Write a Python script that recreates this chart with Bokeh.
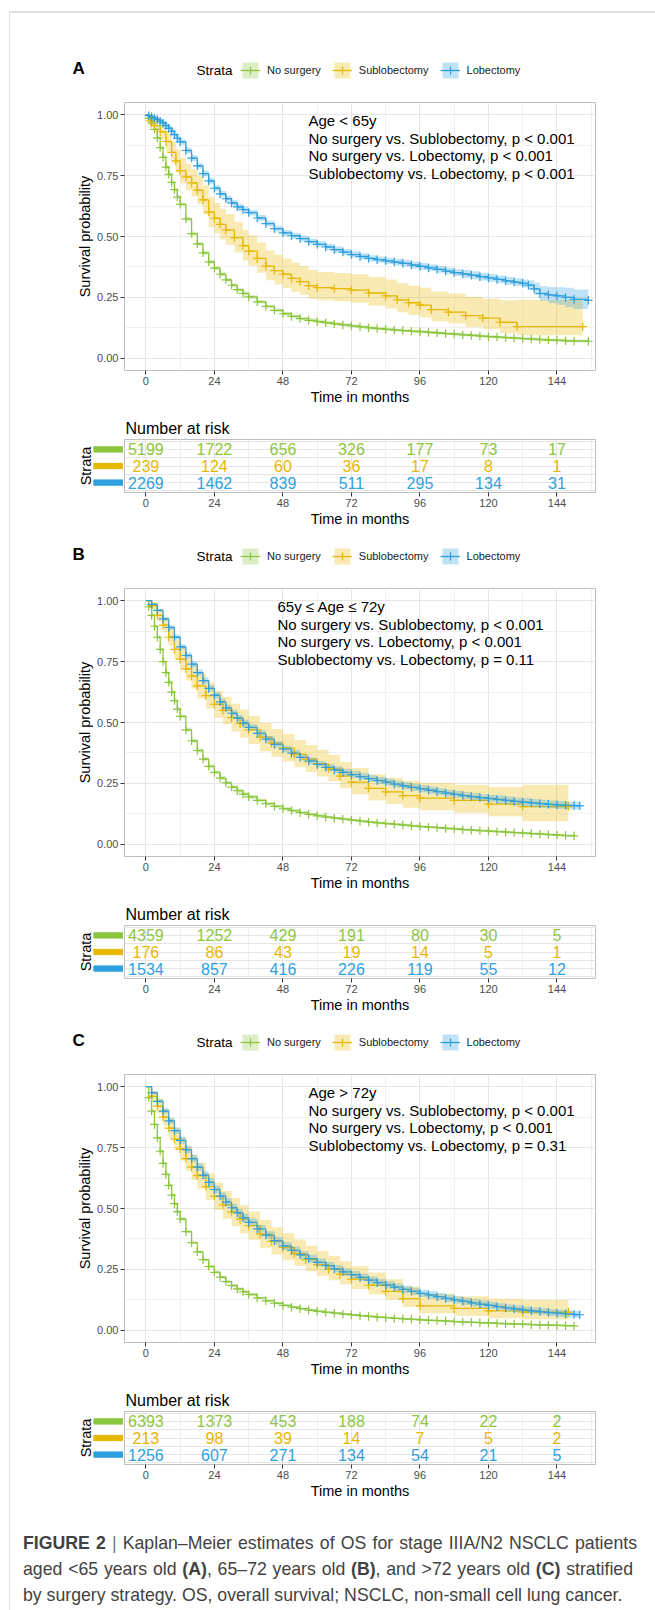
import numpy as np
from bokeh.plotting import figure
from bokeh.models import (Range1d, FixedTicker, NumeralTickFormatter, Label, Legend,
                          LegendItem, ColumnDataSource, Grid, Div)
from bokeh.layouts import row, column
from bokeh.embed import file_html
from bokeh.resources import INLINE
from bokeh.core.properties import value

FONT = "Liberation Sans"
STRATA = ["No surgery", "Sublobectomy", "Lobectomy"]
COLORS = ["#8CC63F", "#E7B800", "#2E9FDF"]
ROW_POS = [3, 2, 1]
X_TICKS = [0, 24, 48, 72, 96, 120, 144]
X_MINOR = [12, 36, 60, 84, 108, 132, 156]
Y_TICKS = [0, 0.25, 0.5, 0.75, 1.0]
Y_MINOR = [0.125, 0.375, 0.625, 0.875]
RISK_TIMES = [0, 24, 48, 72, 96, 120, 144]

# ---------------- Panel A (Age < 65y) ----------------
A_no_t = [0, 1, 2, 3, 4, 5, 6, 7, 8, 9, 10, 11, 12, 14, 16, 18, 20, 22, 24, 26, 28, 30, 32, 34, 36,
          39, 42, 45, 48, 51, 54, 57, 60, 63, 66, 69, 72, 75, 78, 81, 84, 87, 90, 93, 96, 99, 102, 105,
          108, 111, 114, 117, 120, 123, 126, 129, 132, 135, 138, 141, 144, 147, 150, 155]
A_no_s = [1.0, 0.985, 0.965, 0.94, 0.905, 0.865, 0.825, 0.785, 0.755, 0.722, 0.692, 0.662, 0.632,
          0.572, 0.512, 0.47, 0.433, 0.396, 0.37, 0.345, 0.322, 0.30, 0.282, 0.266, 0.252,
          0.232, 0.213, 0.197, 0.183, 0.172, 0.163, 0.156, 0.150,
          0.146, 0.141, 0.137, 0.133, 0.129, 0.125, 0.122, 0.119, 0.116, 0.114, 0.111, 0.109, 0.106, 0.104,
          0.101, 0.099, 0.096, 0.094, 0.091, 0.089, 0.087, 0.085, 0.083, 0.081, 0.079, 0.077, 0.075, 0.074,
          0.072, 0.071, 0.070]
A_no_w = [0, 0.003, 0.004, 0.005, 0.006, 0.007, 0.007, 0.008, 0.008, 0.008, 0.008, 0.008, 0.008] + \
         [0.008] * 12 + [0.007] * 8 + [0.006] * 31

A_sub_t = [0, 1.5, 3, 5, 7, 9, 10.5, 12, 14, 16, 18, 20, 22, 24, 26, 28, 31, 34, 36, 39, 42, 45, 48,
           51, 54, 57, 60, 66, 72, 78, 84, 88, 92, 96, 100, 106, 112, 118, 124, 130, 153]
A_sub_s = [1.0, 0.975, 0.955, 0.93, 0.89, 0.845, 0.81, 0.77, 0.745, 0.72, 0.69, 0.65, 0.60, 0.575, 0.55, 0.527,
           0.495, 0.462, 0.44, 0.41, 0.378, 0.36, 0.345, 0.328, 0.315, 0.298, 0.29,
           0.286, 0.28, 0.268, 0.256, 0.24, 0.228, 0.218, 0.20, 0.19, 0.175, 0.165, 0.148, 0.13, 0.13]
A_sub_wh = [0, 0.02, 0.027, 0.033, 0.04, 0.045, 0.048, 0.052, 0.054, 0.056, 0.058, 0.06, 0.062, 0.063, 0.064, 0.065,
            0.065, 0.065, 0.065, 0.065, 0.065, 0.065, 0.065, 0.064, 0.064, 0.064, 0.064,
            0.064, 0.065, 0.066, 0.067, 0.068, 0.07, 0.072, 0.074, 0.076, 0.078, 0.08, 0.09, 0.11, 0.11]
A_sub_wl = [0, 0.02, 0.027, 0.033, 0.04, 0.045, 0.048, 0.052, 0.054, 0.056, 0.058, 0.06, 0.062, 0.062, 0.062, 0.062,
            0.061, 0.06, 0.06, 0.059, 0.058, 0.057, 0.056, 0.055, 0.054, 0.053, 0.052,
            0.052, 0.052, 0.052, 0.052, 0.051, 0.05, 0.05, 0.048, 0.047, 0.046, 0.045, 0.045, 0.035, 0.035]

A_lob_t = [0, 1, 2, 3, 4, 5, 6, 7, 8, 9, 10, 11, 12, 14, 16, 18, 20, 22, 24, 26, 28, 30, 32, 34, 36,
           39, 42, 45, 48, 51, 54, 57, 60, 63, 66, 69, 72, 75, 78, 81, 84, 87, 90, 93, 96, 99, 102, 105,
           108, 111, 114, 117, 120, 123, 126, 129, 132, 134, 136, 138, 141, 144, 147, 150, 155]
A_lob_s = [1.0, 0.996, 0.991, 0.986, 0.98, 0.973, 0.965, 0.955, 0.944, 0.932, 0.918, 0.903, 0.888,
           0.853, 0.822, 0.79, 0.758, 0.728, 0.698, 0.675, 0.655, 0.638, 0.622, 0.61, 0.598,
           0.576, 0.553, 0.532, 0.515, 0.503, 0.491, 0.479, 0.468,
           0.457, 0.446, 0.436, 0.426, 0.418, 0.41, 0.405, 0.40, 0.395, 0.39, 0.383, 0.377, 0.371, 0.365,
           0.358, 0.352, 0.346, 0.341, 0.335, 0.33, 0.324, 0.318, 0.313, 0.308,
           0.30, 0.285, 0.266, 0.26, 0.256, 0.25, 0.242, 0.238]
A_lob_w = [0, 0.003, 0.004, 0.005, 0.006, 0.007, 0.008, 0.009, 0.009, 0.01, 0.01, 0.011, 0.011] + \
          [0.012] * 20 + [0.013] * 8 + [0.014] * 8 + [0.016] * 8 + [0.02, 0.025, 0.03, 0.033, 0.036, 0.04, 0.04, 0.04]

A_risk = [[5199, 1722, 656, 326, 177, 73, 17], [239, 124, 60, 36, 17, 8, 1], [2269, 1462, 839, 511, 295, 134, 31]]
A_text = ["Age < 65y", "No surgery vs. Sublobectomy, p < 0.001",
          "No surgery vs. Lobectomy, p < 0.001", "Sublobectomy vs. Lobectomy, p < 0.001"]

# ---------------- Panel B (65y <= Age <= 72y) ----------------
B_no_t = [0, 1, 2, 3, 4, 5, 6, 7, 8, 9, 10, 11, 12, 14, 16, 18, 20, 22, 24, 26, 28, 30, 32, 34, 36,
          39, 42, 45, 48, 51, 54, 57, 60, 63, 66, 69, 72, 75, 78, 81, 84, 87, 90, 93, 96, 99, 102, 105,
          108, 111, 114, 117, 120, 123, 126, 129, 132, 135, 138, 141, 144, 147, 150]
B_no_s = [1.0, 0.975, 0.94, 0.895, 0.85, 0.8, 0.75, 0.705, 0.665, 0.625, 0.59, 0.555, 0.525,
          0.47, 0.425, 0.385, 0.35, 0.32, 0.295, 0.272, 0.252, 0.235, 0.22, 0.206, 0.195,
          0.18, 0.167, 0.156, 0.146, 0.138, 0.13, 0.123, 0.117,
          0.112, 0.107, 0.103, 0.099, 0.095, 0.091, 0.088, 0.085, 0.082, 0.079, 0.076, 0.073, 0.07, 0.068,
          0.065, 0.063, 0.06, 0.058, 0.056, 0.054, 0.052, 0.05, 0.048, 0.046, 0.044, 0.042, 0.04, 0.038,
          0.036, 0.035]
B_no_w = [0, 0.004, 0.005, 0.006, 0.007, 0.007, 0.008, 0.008, 0.008, 0.008, 0.008, 0.008, 0.008] + \
         [0.008] * 12 + [0.007] * 8 + [0.005] * 30

B_sub_t = [0, 2, 4, 6, 8, 10, 12, 14, 16, 18, 21, 24, 27, 30, 33, 36, 40, 44, 48, 52, 56, 60, 64, 68, 72,
           78, 84, 90, 96, 108, 120, 132, 148]
B_sub_s = [1.0, 0.98, 0.94, 0.9, 0.85, 0.8, 0.76, 0.72, 0.69, 0.65, 0.61, 0.575, 0.55, 0.52, 0.495, 0.47,
           0.44, 0.415, 0.395, 0.37, 0.35, 0.33, 0.31, 0.28, 0.255, 0.23, 0.215, 0.2, 0.19, 0.18, 0.165, 0.155, 0.155]
B_sub_wh = [0, 0.015, 0.025, 0.03, 0.035, 0.04, 0.045, 0.048, 0.05, 0.052, 0.054, 0.055, 0.056, 0.057, 0.058, 0.058,
            0.058, 0.058, 0.058, 0.058, 0.058, 0.058, 0.058, 0.058, 0.058, 0.058, 0.058, 0.06, 0.062, 0.065, 0.07, 0.09, 0.09]
B_sub_wl = [0, 0.015, 0.025, 0.03, 0.035, 0.04, 0.045, 0.048, 0.05, 0.052, 0.054, 0.055, 0.056, 0.057, 0.058, 0.058,
            0.058, 0.056, 0.055, 0.054, 0.053, 0.052, 0.051, 0.05, 0.05, 0.05, 0.05, 0.05, 0.05, 0.05, 0.05, 0.06, 0.06]

B_lob_t = [0, 2, 4, 6, 8, 10, 12, 14, 16, 18, 20, 22, 24, 26, 28, 30, 32, 34, 36,
           39, 42, 45, 48, 51, 54, 57, 60, 63, 66, 69, 72, 75, 78, 81, 84, 87, 90, 93, 96, 99, 102, 105,
           108, 111, 114, 117, 120, 123, 126, 129, 132, 135, 138, 141, 144, 147, 150, 152]
B_lob_s = [1.0, 0.985, 0.96, 0.925, 0.89, 0.85, 0.81, 0.775, 0.74, 0.705, 0.672, 0.64, 0.612, 0.585, 0.56,
           0.538, 0.518, 0.498, 0.48, 0.455, 0.432, 0.41, 0.392, 0.374, 0.357, 0.342, 0.328,
           0.316, 0.305, 0.295, 0.286, 0.278, 0.27, 0.262, 0.255, 0.247, 0.24, 0.234, 0.228, 0.222, 0.216,
           0.21, 0.205, 0.2, 0.196, 0.192, 0.188, 0.184, 0.18, 0.176, 0.173, 0.17, 0.167, 0.164, 0.162,
           0.16, 0.159, 0.158]
B_lob_w = [0, 0.004, 0.006, 0.008, 0.009, 0.01, 0.011, 0.012, 0.012, 0.013] + [0.013] * 17 + \
          [0.014] * 20 + [0.016] * 10 + [0.017]

B_risk = [[4359, 1252, 429, 191, 80, 30, 5], [176, 86, 43, 19, 14, 5, 1], [1534, 857, 416, 226, 119, 55, 12]]
B_text = ["65y \u2264 Age \u2264 72y", "No surgery vs. Sublobectomy, p < 0.001",
          "No surgery vs. Lobectomy, p < 0.001", "Sublobectomy vs. Lobectomy, p = 0.11"]

# ---------------- Panel C (Age > 72y) ----------------
C_no_t = [0, 1, 2, 3, 4, 5, 6, 7, 8, 9, 10, 11, 12, 14, 16, 18, 20, 22, 24, 26, 28, 30, 32, 34, 36,
          39, 42, 45, 48, 51, 54, 57, 60, 63, 66, 69, 72, 75, 78, 81, 84, 87, 90, 93, 96, 99, 102, 105,
          108, 111, 114, 117, 120, 123, 126, 129, 132, 135, 138, 141, 144, 147, 150]
C_no_s = [1.0, 0.955, 0.9, 0.845, 0.79, 0.735, 0.685, 0.64, 0.595, 0.555, 0.52, 0.487, 0.457,
          0.405, 0.36, 0.322, 0.29, 0.262, 0.238, 0.218, 0.2, 0.184, 0.17, 0.158, 0.147,
          0.133, 0.121, 0.111, 0.102, 0.095, 0.089, 0.083, 0.078,
          0.074, 0.07, 0.066, 0.063, 0.06, 0.057, 0.054, 0.052, 0.049, 0.047, 0.045, 0.043, 0.041, 0.04,
          0.038, 0.036, 0.034, 0.033, 0.031, 0.03, 0.028, 0.027, 0.026, 0.025, 0.023, 0.022, 0.021, 0.02,
          0.019, 0.018]
C_no_w = [0, 0.004, 0.005, 0.006, 0.006, 0.007, 0.007, 0.007, 0.007, 0.007, 0.007, 0.007, 0.007] + \
         [0.006] * 12 + [0.005] * 8 + [0.004] * 30

C_sub_t = [0, 2, 4, 6, 8, 10, 12, 14, 16, 18, 21, 24, 27, 30, 33, 36, 40, 44, 48, 52, 56, 60, 64, 68, 72,
           78, 84, 90, 96, 108, 120, 132, 148]
C_sub_s = [1.0, 0.96, 0.92, 0.875, 0.83, 0.785, 0.745, 0.705, 0.67, 0.635, 0.59, 0.55, 0.515, 0.485, 0.455, 0.43,
           0.395, 0.365, 0.34, 0.315, 0.29, 0.27, 0.25, 0.23, 0.21, 0.185, 0.16, 0.13, 0.1, 0.09, 0.08, 0.075, 0.075]
C_sub_wh = [0, 0.02, 0.03, 0.035, 0.04, 0.045, 0.048, 0.05, 0.052, 0.054, 0.055, 0.056, 0.057, 0.058, 0.058, 0.058,
            0.058, 0.058, 0.058, 0.058, 0.057, 0.056, 0.055, 0.054, 0.053, 0.052, 0.05, 0.05, 0.05, 0.05, 0.05, 0.05, 0.05]
C_sub_wl = [0, 0.02, 0.03, 0.035, 0.04, 0.045, 0.048, 0.05, 0.052, 0.054, 0.055, 0.056, 0.057, 0.058, 0.058, 0.058,
            0.056, 0.054, 0.052, 0.05, 0.048, 0.046, 0.044, 0.042, 0.04, 0.038, 0.036, 0.034, 0.03, 0.03, 0.03, 0.03, 0.03]

C_lob_t = [0, 2, 4, 6, 8, 10, 12, 14, 16, 18, 20, 22, 24, 26, 28, 30, 32, 34, 36,
           39, 42, 45, 48, 51, 54, 57, 60, 63, 66, 69, 72, 75, 78, 81, 84, 87, 90, 93, 96, 99, 102, 105,
           108, 111, 114, 117, 120, 123, 126, 129, 132, 135, 138, 141, 144, 147, 150, 152]
C_lob_s = [1.0, 0.975, 0.94, 0.9, 0.86, 0.82, 0.78, 0.742, 0.705, 0.67, 0.637, 0.607, 0.578, 0.551, 0.526,
           0.503, 0.482, 0.462, 0.443, 0.416, 0.391, 0.368, 0.347, 0.328, 0.31, 0.294, 0.279,
           0.265, 0.252, 0.24, 0.228, 0.217, 0.206, 0.196, 0.186, 0.177, 0.168, 0.16, 0.152, 0.145, 0.138,
           0.131, 0.125, 0.119, 0.113, 0.107, 0.102, 0.097, 0.092, 0.088, 0.084, 0.08, 0.077, 0.073, 0.07,
           0.067, 0.065, 0.064]
C_lob_w = [0, 0.006, 0.008, 0.01, 0.012, 0.013, 0.014, 0.015, 0.015, 0.016] + [0.016] * 17 + \
          [0.015] * 20 + [0.014] * 11

C_risk = [[6393, 1373, 453, 188, 74, 22, 2], [213, 98, 39, 14, 7, 5, 2], [1256, 607, 271, 134, 54, 21, 5]]
C_text = ["Age > 72y", "No surgery vs. Sublobectomy, p < 0.001",
          "No surgery vs. Lobectomy, p < 0.001", "Sublobectomy vs. Lobectomy, p = 0.31"]

CAPTION = [
    "<b>FIGURE 2</b> <span style='color:#777'>|</span> Kaplan\u2013Meier estimates of OS for stage IIIA/N2 NSCLC patients",
    "aged &lt;65 years old <b>(A)</b>, 65\u201372 years old <b>(B)</b>, and &gt;72 years old <b>(C)</b> stratified",
    "by surgery strategy. OS, overall survival; NSCLC, non-small cell lung cancer.",
]

GRID_MAJOR = "#E6E6E6"
GRID_MINOR = "#F0F0F0"
PANEL_BORDER = "#BFBFBF"
OUTER = "#ABABAB"


def base_fig(**kw):
    p = figure(output_backend="svg", toolbar_location=None, **kw)
    if "frame_align" in p.properties():
        p.frame_align = False
    return p


def style_axes(p):
    for ax in p.axis:
        ax.axis_line_color = None
        ax.major_tick_line_color = "#333333"
        ax.major_tick_out = 4
        ax.major_tick_in = 0
        ax.minor_tick_line_color = None
        ax.major_label_text_font = FONT
        ax.major_label_text_font_size = "11px"
        ax.major_label_text_color = "#4D4D4D"
        ax.major_label_standoff = 2
        ax.axis_label_text_font = FONT
        ax.axis_label_text_font_size = "14.5px"
        ax.axis_label_text_font_style = "normal"
        ax.axis_label_text_color = "#000000"
        ax.axis_label_standoff = 1


def screen_label(text, x, y, size, **kw):
    return Label(x=x, y=y, x_units="screen", y_units="screen", text=text, text_font=FONT,
                 text_font_size=size, text_baseline="middle", text_color="#000000", **kw)


def add_curves(p, sources):
    lines = [p.step(x="t", y="s", source=src, mode="after", line_color=c, line_width=1.3)
             for src, _, c in sources]
    bands = [p.varea_step(x="t", y1="lo", y2="hi", source=src, step_mode="after",
                          fill_color=c, fill_alpha=0.3) for src, _, c in sources]
    marks = [p.scatter(x="t", y="s", source=cs, marker="cross", size=8.5, line_color=c, line_width=1.2)
             for _, cs, c in sources]
    return lines, bands, marks


def km_block(tag, ann_lines, ann_x, curves):
    sources = []
    for (t, s, wl, wh), c in zip(curves, COLORS):
        t = np.asarray(t, float)
        s = np.asarray(s, float)
        lo = np.clip(s - np.asarray(wl, float), 0, 1)
        hi = np.clip(s + np.asarray(wh, float), 0, 1)
        sources.append((ColumnDataSource(dict(t=t, s=s, lo=lo, hi=hi)),
                        ColumnDataSource(dict(t=t[1:], s=s[1:])), c))

    # header canvas: panel tag and legend (the curves are drawn out of view to supply the legend keys)
    h = base_fig(width=645, height=57, x_range=Range1d(-2000, -1355), y_range=Range1d(-2000, -1943),
                 min_border_left=0, min_border_right=0, min_border_top=0, min_border_bottom=0,
                 x_axis_location=None, y_axis_location=None)
    h.outline_line_color = None
    h.grid.visible = False
    hl, hb, hm = add_curves(h, sources)
    items = [LegendItem(label=n, renderers=[b, l, m]) for n, b, l, m in zip(STRATA, hb, hl, hm)]
    leg = Legend(items=items, orientation="horizontal", location=(230, 21), padding=0, margin=0,
                 spacing=11, label_standoff=7, glyph_width=20, glyph_height=20, label_height=20,
                 label_text_font=FONT, label_text_font_size="11px", label_text_color="#1A1A1A",
                 border_line_color=None, background_fill_alpha=0)
    h.add_layout(leg)
    h.add_layout(screen_label(tag, 62, 33, "17px", text_font_style="bold"))
    h.add_layout(screen_label("Strata", 186, 31, "13.5px"))

    p = base_fig(width=645, height=311, x_range=Range1d(-7.5, 157.5), y_range=Range1d(-0.05, 1.05),
                 min_border_left=114, min_border_right=60, min_border_top=1, min_border_bottom=42)
    p.outline_line_color = PANEL_BORDER
    p.xaxis.ticker = FixedTicker(ticks=X_TICKS, minor_ticks=X_MINOR)
    p.yaxis.ticker = FixedTicker(ticks=Y_TICKS, minor_ticks=Y_MINOR)
    p.yaxis.formatter = NumeralTickFormatter(format="0.00")
    p.xaxis.axis_label = "Time in months"
    p.yaxis.axis_label = "Survival probability"
    style_axes(p)
    p.grid.grid_line_color = GRID_MAJOR
    p.grid.minor_grid_line_color = GRID_MINOR
    add_curves(p, sources)
    for i, txt in enumerate(ann_lines):
        p.add_layout(screen_label(txt, ann_x, 250 - 17.5 * i, "15px"))
    return [h, p]


def risk_panel(counts):
    strip = base_fig(width=113, height=118, x_range=Range1d(0, 1), y_range=Range1d(0.4, 3.6),
                     min_border_left=83, min_border_right=0, min_border_top=27, min_border_bottom=38,
                     x_axis_location=None)
    strip.outline_line_color = None
    strip.grid.visible = False
    strip.yaxis.ticker = FixedTicker(ticks=[])
    strip.yaxis.axis_label = "Strata"
    strip.yaxis.axis_line_color = None
    strip.yaxis.major_tick_line_color = None
    strip.yaxis.minor_tick_line_color = None
    strip.yaxis.major_label_text_font_size = "0px"
    strip.yaxis.major_label_standoff = 0
    strip.yaxis.major_tick_out = 0
    strip.yaxis.axis_label_standoff = 0
    strip.yaxis.axis_label_text_font = FONT
    strip.yaxis.axis_label_text_font_size = "14.5px"
    strip.yaxis.axis_label_text_font_style = "normal"
    strip.yaxis.axis_label_text_color = "#000000"
    strip.hbar(y=ROW_POS, left=0, right=1, height=0.32, color=COLORS)

    r = base_fig(width=532, height=118, x_range=Range1d(-7.5, 157.5), y_range=Range1d(0.4, 3.6),
                 min_border_left=1, min_border_right=60, min_border_top=27, min_border_bottom=38,
                 y_axis_location=None)
    r.outline_line_color = PANEL_BORDER
    r.xaxis.ticker = FixedTicker(ticks=X_TICKS, minor_ticks=X_MINOR)
    r.xaxis.axis_label = "Time in months"
    style_axes(r)
    r.xgrid.grid_line_color = GRID_MAJOR
    r.xgrid.minor_grid_line_color = GRID_MINOR
    r.add_layout(Grid(dimension=1, ticker=FixedTicker(ticks=ROW_POS), grid_line_color=GRID_MAJOR))
    xs, ys, tx, cs = [], [], [], []
    for vals, ypos, c in zip(counts, ROW_POS, COLORS):
        for t, v in zip(RISK_TIMES, vals):
            xs.append(t); ys.append(ypos); tx.append(str(v)); cs.append(c)
    src = ColumnDataSource(dict(x=xs, y=ys, txt=tx, c=cs))
    r.text(x="x", y="y", text="txt", source=src, text_color="c", text_font=value(FONT),
           text_font_size="16px", text_align="center", text_baseline="middle")
    r.title.text = "Number at risk"
    r.title.text_font = FONT
    r.title.text_font_size = "16px"
    r.title.text_font_style = "normal"
    r.title.text_color = "#000000"
    r.title.align = "left"
    r.title.offset = 1
    r.title.standoff = 6
    return row(strip, r)


def line_fig(w, h, left, right, top, bottom):
    f = base_fig(width=w, height=h, x_range=Range1d(0, 1), y_range=Range1d(0, 1),
                 min_border_left=left, min_border_right=right, min_border_top=top, min_border_bottom=bottom,
                 x_axis_location=None, y_axis_location=None)
    f.outline_line_color = None
    f.background_fill_color = OUTER
    return f


panels = [
    ("A", A_text, 184, [(A_no_t, A_no_s, A_no_w, A_no_w), (A_sub_t, A_sub_s, A_sub_wl, A_sub_wh),
                        (A_lob_t, A_lob_s, A_lob_w, A_lob_w)], A_risk),
    ("B", B_text, 153, [(B_no_t, B_no_s, B_no_w, B_no_w), (B_sub_t, B_sub_s, B_sub_wl, B_sub_wh),
                        (B_lob_t, B_lob_s, B_lob_w, B_lob_w)], B_risk),
    ("C", C_text, 184, [(C_no_t, C_no_s, C_no_w, C_no_w), (C_sub_t, C_sub_s, C_sub_wl, C_sub_wh),
                        (C_lob_t, C_lob_s, C_lob_w, C_lob_w)], C_risk),
]

blocks = []
for tag, txt, ax, curves, risk in panels:
    blocks.extend(km_block(tag, txt, ax, curves))
    blocks.append(risk_panel(risk))

cap_html = (
    "<div style=\"font-family:'Liberation Sans',Arial,sans-serif;font-size:17.7px;line-height:26px;"
    "color:#424242;padding:28px 0 0 13px;margin:0;\">"
    f"<div style='width:614px;text-align:justify;text-align-last:justify;'>{CAPTION[0]}</div>"
    f"<div style='width:610px;text-align:justify;text-align-last:justify;'>{CAPTION[1]}</div>"
    f"<div style='white-space:nowrap;'>{CAPTION[2]}</div>"
    "</div>"
)
caption = Div(text=cap_html, width=645, height=108, margin=(0, 0, 0, 0))

left_line = line_fig(10, 1610, 9, 0, 11, 0)
top_line = line_fig(645, 44, 0, 0, 11, 32)

root = row(left_line, column(top_line, *blocks, caption))

with open("out.html", "w") as fh:
    fh.write(file_html(root, INLINE))
